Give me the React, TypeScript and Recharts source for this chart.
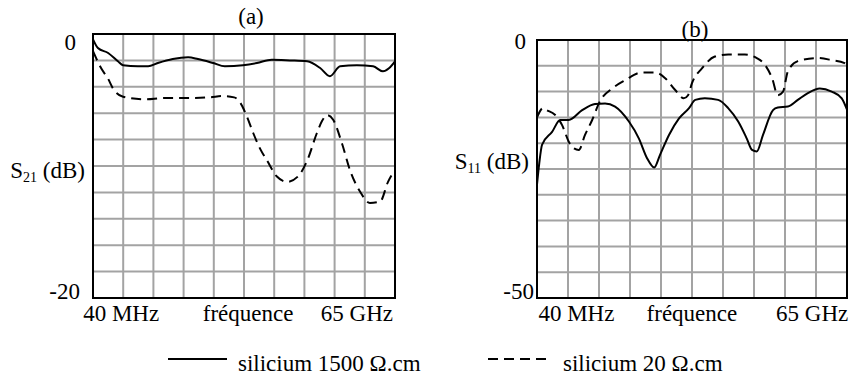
import { LineChart, Line, XAxis, YAxis, CartesianGrid, ReferenceArea } from 'recharts';

const FONT = '"Liberation Serif", "Times New Roman", Times, serif';
const GRID = '#a3a3a3';
const FS = 23;
const txt = { fontFamily: FONT, fontSize: FS };

// fréquence en GHz, de 40 MHz à 65 GHz
const F_MIN = 0.04;
const F_MAX = 65;
const X_GRID = Array.from({ length: 11 }, (_, i) => +(F_MIN + (i * (F_MAX - F_MIN)) / 10).toFixed(4));

const xLabels = ['40 MHz', 'fréquence', '65 GHz'];
const xLabelPosA = [6.1, 33.4, 56.8];
const xLabelPosB = [8.3, 32.5, 57.7];

const yTicksA = [0, -2, -4, -6, -8, -10, -12, -14, -16, -18, -20];
const yTicksB = [0, -5, -10, -15, -20, -25, -30, -35, -40, -45, -50];

// (a) S21, silicium 1500 ohm.cm
const freqA1500 = [0.04, 1.1, 3.3, 5.4, 6.5, 9.7, 11.9, 14.0, 17.2, 20.5, 22.6, 25.9, 28.4, 32.3, 35.3, 38.5, 42.4, 46.1, 48.9, 51.0, 53.2, 56.8, 60.3, 62.4, 63.7, 65.0];
const s21_1500 = [-0.4, -1.06, -1.44, -2.07, -2.37, -2.45, -2.45, -2.2, -1.9, -1.77, -1.9, -2.2, -2.45, -2.37, -2.2, -1.95, -2.0, -2.07, -2.58, -3.2, -2.45, -2.37, -2.45, -2.83, -2.6, -2.07];

// (a) S21, silicium 20 ohm.cm
const freqA20 = [0.04, 1.8, 3.3, 4.3, 6.5, 11.0, 15.5, 20.5, 25.2, 27.8, 30.4, 31.7, 33.2, 34.5, 36.0, 37.5, 39.6, 41.8, 44.1, 46.1, 48.2, 49.3, 50.4, 51.7, 53.6, 55.3, 57.5, 59.6, 61.8, 63.5, 65.0];
const s21_20 = [-1.3, -2.6, -3.4, -4.1, -4.75, -4.95, -4.85, -4.85, -4.8, -4.7, -4.8, -5.2, -6.3, -7.5, -8.7, -9.6, -10.8, -11.2, -10.8, -9.6, -7.5, -6.6, -6.15, -6.5, -8.3, -10.3, -11.95, -12.8, -12.7, -11.2, -10.3];

// (b) S11, silicium 1500 ohm.cm
const freqB1500 = [0.04, 0.5, 1.1, 3.2, 4.9, 6.7, 9.5, 12.2, 14.3, 16.4, 19.3, 21.4, 23.1, 24.6, 25.8, 27.7, 29.8, 31.9, 33.2, 35.2, 38.0, 40.1, 42.2, 44.0, 45.1, 46.1, 47.4, 49.5, 50.5, 52.6, 54.7, 56.8, 59.3, 61.8, 63.9, 65.0];
const s11_1500 = [-28, -24, -20.3, -17.8, -15.5, -15.5, -13.6, -12.4, -12.3, -12.9, -15.8, -19.1, -22.9, -24.7, -22.3, -18.4, -15.2, -13.2, -11.6, -11.3, -11.6, -13.2, -15.8, -19.1, -21.3, -21.6, -18.4, -13.6, -13.1, -12.9, -11.6, -10.3, -9.4, -10.0, -11.3, -13.5];

// (b) S11, silicium 20 ohm.cm
const freqB20 = [0.04, 1.3, 2.1, 3.8, 5.3, 6.7, 7.8, 8.8, 10.1, 11.6, 13.2, 15.8, 18.5, 22.0, 24.8, 26.9, 29.0, 30.8, 31.7, 32.5, 34.6, 37.3, 40.1, 43.6, 46.1, 47.8, 49.3, 50.5, 51.6, 52.6, 54.7, 58.9, 61.8, 64.5, 65.0];
const s11_20 = [-15, -13.2, -13.6, -14.5, -16.5, -19.7, -21.0, -21.3, -18.4, -15.5, -11.9, -9.4, -7.8, -6.3, -6.3, -7.4, -9.7, -11.3, -10.7, -8.4, -5.5, -3.2, -2.8, -2.8, -3.5, -4.8, -7.4, -10.7, -10.0, -6.1, -4.1, -3.5, -3.9, -4.5, -5.2];

const toPoints = (f: number[], v: number[]) => f.map((x, i) => ({ f: x, db: v[i] }));
const gridData = X_GRID.map((f) => ({ f }));

type PanelProps = {
  left: number;
  width: number;
  top: number;
  right: number;
  yWidth: number;
  yTicks: number[];
  labelPos: number[];
  solid: { f: number; db: number }[];
  dashed: { f: number; db: number }[];
  topDx: number;
  topDy: number;
  botDx: number;
};

function Panel(p: PanelProps) {
  const yMin = p.yTicks[p.yTicks.length - 1];
  return (
    <div style={{ position: 'absolute', left: p.left, top: 0 }}>
      <LineChart width={p.width} height={376} data={gridData} margin={{ top: p.top, right: p.right, bottom: 0, left: 0 }}>
        <CartesianGrid stroke={GRID} strokeWidth={2} />
        {/* axe invisible, sert seulement au quadrillage 10 x 10 */}
        <XAxis
          type="number"
          dataKey="f"
          domain={[F_MIN, F_MAX]}
          ticks={X_GRID}
          interval={0}
          height={1}
          tick={() => <g />}
          tickLine={false}
          axisLine={false}
        />
        <XAxis
          xAxisId="lbl"
          type="number"
          dataKey="f"
          domain={[F_MIN, F_MAX]}
          ticks={p.labelPos}
          height={77}
          tickLine={false}
          axisLine={false}
          interval={0}
          tick={(t: any) => (
            <text x={t.x} y={t.y} dy={14} textAnchor="middle" style={txt} fill="#000">
              {xLabels[p.labelPos.indexOf(t.payload.value)]}
            </text>
          )}
        />
        <YAxis
          type="number"
          domain={[yMin, 0]}
          ticks={p.yTicks}
          width={p.yWidth}
          tickLine={false}
          axisLine={false}
          interval={0}
          tick={(t: any) => {
            const v = t.payload.value;
            if (v !== 0 && v !== yMin) return <g />;
            const isTop = v === 0;
            return (
              <text
                x={t.x + (isTop ? p.topDx : p.botDx)}
                y={t.y + (isTop ? p.topDy : -7)}
                textAnchor="end"
                dominantBaseline="central"
                style={txt}
                fill="#000"
              >
                {v}
              </text>
            );
          }}
        />
        <Line
          data={p.dashed}
          dataKey="db"
          type="monotone"
          stroke="#000"
          strokeWidth={2}
          strokeDasharray="10 6"
          dot={false}
          isAnimationActive={false}
        />
        <Line
          data={p.solid}
          dataKey="db"
          type="monotone"
          stroke="#000"
          strokeWidth={2}
          dot={false}
          isAnimationActive={false}
        />
        <ReferenceArea
          x1={F_MIN}
          x2={F_MAX}
          y1={yMin}
          y2={0}
          fill="none"
          fillOpacity={0}
          stroke="#000"
          strokeWidth={2}
          ifOverflow="visible"
        />
      </LineChart>
    </div>
  );
}

export default function App() {
  return (
    <div style={{ position: 'absolute', left: 0, top: 0, width: 852, height: 376, background: '#fff', fontFamily: FONT }}>
      <Panel
        left={0}
        width={420}
        top={34}
        right={25}
        yWidth={93}
        yTicks={yTicksA}
        labelPos={xLabelPosA}
        solid={toPoints(freqA1500, s21_1500)}
        dashed={toPoints(freqA20, s21_20)}
        topDx={-9}
        topDy={8}
        botDx={-5}
      />
      <Panel
        left={440}
        width={412}
        top={40}
        right={5}
        yWidth={97}
        yTicks={yTicksB}
        labelPos={xLabelPosB}
        solid={toPoints(freqB1500, s11_1500)}
        dashed={toPoints(freqB20, s11_20)}
        topDx={-3}
        topDy={1}
        botDx={5}
      />
      <svg width={852} height={376} style={{ position: 'absolute', left: 0, top: 0, pointerEvents: 'none' }}>
        <g style={txt} fill="#000">
          <text x={251} y={24} textAnchor="middle">(a)</text>
          <text x={695} y={37} textAnchor="middle">(b)</text>
          <text x={85} y={178} textAnchor="end">
            S<tspan fontSize={14} dy={4}>21</tspan>
            <tspan dy={-4}> (dB)</tspan>
          </text>
          <text x={529} y={169} textAnchor="end">
            S<tspan fontSize={14} dy={4}>11</tspan>
            <tspan dy={-4}> (dB)</tspan>
          </text>
          <line x1={168} x2={227} y1={359} y2={359} stroke="#000" strokeWidth={2} />
          <text x={238} y={371}>silicium 1500 Ω.cm</text>
          <line x1={488} x2={548} y1={359} y2={359} stroke="#000" strokeWidth={2} strokeDasharray="10 6" />
          <text x={563} y={371}>silicium 20 Ω.cm</text>
        </g>
      </svg>
    </div>
  );
}
